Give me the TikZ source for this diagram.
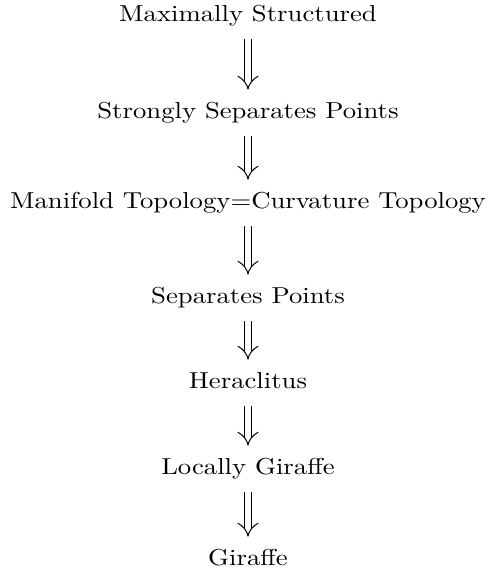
\documentclass[tikz,border=0pt]{standalone}
\usetikzlibrary{arrows.meta}
\begin{document}
\begin{tikzpicture}[x=0.455pt,y=-0.455pt,
  lbl/.style={inner sep=0pt,anchor=base,text height=7pt,text depth=2pt,font=\fontsize{10.5}{12.5}\selectfont},
  impl/.style={double,double distance=3pt,line width=0.45pt,-{Implies},shorten <=6.2pt,shorten >=5.7pt}]
\useasboundingbox (0,0) rectangle (488,571);
\newcommand{\wide}[1]{\scalebox{1.157}[1]{#1}}
\node[lbl] (a) at (248,21) {\wide{Maximally Structured}};
\node[lbl] (b) at (248,118) {\wide{Strongly Separates Points}};
\node[lbl] (c) at (248,208) {\wide{Manifold Topology=Curvature Topology}};
\node[lbl] (d) at (248,303) {\wide{Separates Points}};
\node[lbl] (e) at (248,388) {\wide{Heraclitus}};
\node[lbl] (f) at (248,474) {\wide{Locally Giraffe}};
\node[lbl] (g) at (248,565) {\wide{Giraffe}};
\draw[impl] (a) -- (b);
\draw[impl] (b) -- (c);
\draw[impl] (c) -- (d);
\draw[impl] (d) -- (e);
\draw[impl] (e) -- (f);
\draw[impl] (f) -- (g);
\end{tikzpicture}
\end{document}
